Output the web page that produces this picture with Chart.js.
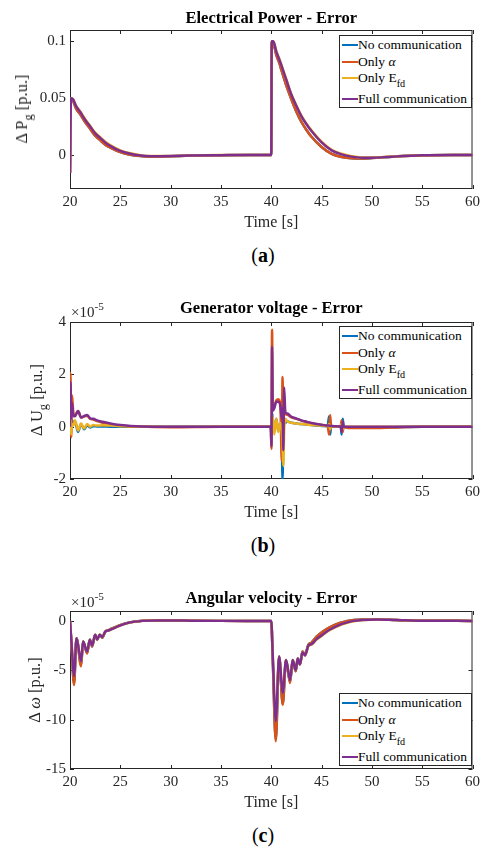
<!DOCTYPE html>
<html>
<head>
<meta charset="utf-8">
<script src="https://cdn.jsdelivr.net/npm/chart.js@4.4.1/dist/chart.umd.min.js"></script>
<style>
    body { margin: 0; background: #fff; width: 484px; height: 852px; position: relative; overflow: hidden; font-family: 'Liberation Serif', serif; color: #262626; }
    canvas { position: absolute; left: 0; }
    .ylab { position: absolute; transform: translate(-50%, -50%) rotate(-90deg); white-space: nowrap; font-size: 16.5px; }
    .sb { font-size: 0.75em; position: relative; top: 5px; }
    .expo { position: absolute; font-size: 15px; white-space: nowrap; }
    .expo .sp { font-size: 0.75em; position: relative; top: -7px; }
    .legend { position: absolute; width: 131px; border: 1px solid #262626; background: #fff; font-size: 13.5px; color: #000; }
    .legend .row { position: relative; height: 17px; }
    .legend .ln { position: absolute; left: 2px; top: 8px; width: 16px; height: 2px; }
    .legend .tx { position: absolute; left: 18px; top: 0; line-height: 17px; white-space: nowrap; }
    .cap { position: absolute; transform: translate(-50%, -50%); font-size: 20px; color: #000; }
</style>
</head>
<body>
<canvas id="chartA" width="484" height="232" style="top:0px"></canvas>
<canvas id="chartB" width="484" height="230" style="top:292px"></canvas>
<canvas id="chartC" width="484" height="231" style="top:581px"></canvas>

<div class="ylab" style="left:22px; top:109px">Δ P<span class="sb">g</span> [p.u.]</div>
<div class="ylab" style="left:37px; top:400px">Δ U<span class="sb">g</span> [p.u.]</div>
<div class="ylab" style="left:35px; top:690px">Δ <i>ω</i> [p.u.]</div>

<div class="expo" style="left:71px; top:304px">×10<span class="sp">-5</span></div>
<div class="expo" style="left:71px; top:594px">×10<span class="sp">-5</span></div>

<div class="legend" id="legendA" style="left:339px; top:35px"></div>
<div class="legend" id="legendB" style="left:339px; top:326px"></div>
<div class="legend" id="legendC" style="left:339px; top:693px"></div>

<div class="cap" style="left:263px; top:255px">(<b>a</b>)</div>
<div class="cap" style="left:263px; top:545px">(<b>b</b>)</div>
<div class="cap" style="left:263px; top:835px">(<b>c</b>)</div>

<script>
// Series names / colours (MATLAB default order)
const seriesLabels = ['No communication', 'Only α', 'Only E_fd', 'Full communication'];
const legendHtml = ['No communication', 'Only <i>α</i>', 'Only E<span class="sb">fd</span>', 'Full communication'];
const colors = ['#0072BD', '#D95319', '#EDB120', '#7E2F8E'];
const xTicks = [20, 25, 30, 35, 40, 45, 50, 55, 60];

// (a) Electrical power error [p.u.]
const timeA = [20, 20.1, 20.3, 20.6, 21, 21.5, 22, 22.5, 23, 23.5,
    24, 25, 26, 27, 28, 30, 32, 35, 38, 40,
    40.05, 40.2, 40.5, 40.8, 41, 41.5, 42, 42.5, 43, 43.5,
    44, 45, 46, 47, 48, 49, 50, 52, 55, 58, 60];
const noCommA = [-0.016, 0.050, 0.048, 0.041, 0.036, 0.029, 0.023, 0.017, 0.013, 0.009,
    0.0065, 0.0025, 0.0002, -0.001, -0.0015, -0.0012, -0.0006, -0.0002, 0, 0,
    0.100, 0.099, 0.088, 0.081, 0.075, 0.061, 0.049, 0.038, 0.029, 0.022,
    0.016, 0.007, 0.001, -0.0018, -0.003, -0.0032, -0.0028, -0.0015, -0.0002, 0, 0];
const onlyAlphaA = [-0.016, 0.050, 0.048, 0.041, 0.036, 0.029, 0.023, 0.017, 0.013, 0.009,
    0.0065, 0.0025, 0.0002, -0.001, -0.0015, -0.0012, -0.0006, -0.0002, 0, 0,
    0.100, 0.099, 0.088, 0.081, 0.075, 0.061, 0.049, 0.038, 0.029, 0.022,
    0.016, 0.007, 0.001, -0.0018, -0.003, -0.0032, -0.0028, -0.0015, -0.0002, 0, 0];
const onlyEfdA = [-0.016, 0.050, 0.049, 0.0435, 0.0385, 0.0316, 0.0256, 0.0196, 0.0156, 0.0116,
    0.0086, 0.004, 0.0014, -0.0002, -0.001, -0.0009, -0.0004, -0.0001, 0, 0,
    0.100, 0.100, 0.0915, 0.0846, 0.0796, 0.0666, 0.0536, 0.0436, 0.0346, 0.0276,
    0.0216, 0.0116, 0.0045, 0.001, -0.0011, -0.0022, -0.0023, -0.0014, -0.0003, 0, 0];
const fullCommA = [-0.016, 0.050, 0.049, 0.043, 0.038, 0.031, 0.025, 0.019, 0.015, 0.011,
    0.008, 0.0035, 0.001, -0.0005, -0.0012, -0.001, -0.0005, -0.0002, 0, 0,
    0.100, 0.100, 0.091, 0.084, 0.079, 0.066, 0.053, 0.043, 0.034, 0.027,
    0.021, 0.011, 0.004, 0.0005, -0.0015, -0.0025, -0.0025, -0.0015, -0.0003, 0, 0];
const yTicksA = [0, 0.05, 0.1];

// (b) Generator voltage error, in 1e-5 p.u.
const timeB = [20, 20.05, 20.12, 20.2, 20.35, 20.5, 20.8, 21.1, 21.4, 21.7,
    22.0, 22.3, 22.7, 23.2, 24, 25, 26, 27, 30, 35,
    39.95, 40.02, 40.08, 40.15, 40.3, 40.5, 40.7, 40.9, 41.05, 41.12,
    41.2, 41.28, 41.4, 41.6, 42, 42.5, 43, 43.5, 44, 44.5,
    45, 45.6, 45.75, 45.85, 45.95, 46.3, 46.9, 47.0, 47.1, 47.2,
    47.6, 48, 50, 52, 55, 60];
const noCommB = [0, 0.3, -0.2, 0.25, 0.15, 0.2, -0.2, 0.1, -0.1, 0.05,
    -0.03, 0.02, 0.01, 0.01, 0, 0, 0, 0, 0, 0,
    0, -0.3, 0.5, 0.3, -0.2, 0.3, -0.15, 0.1, -0.5, -2.0,
    -0.4, 0.2, 0.15, 0.2, 0.15, 0.12, 0.1, 0.08, 0.06, 0.04,
    0.03, 0.02, 0.4, -0.3, 0.02, 0, 0, -0.3, 0.3, 0,
    -0.02, -0.02, -0.03, -0.02, 0, 0];
const onlyAlphaB = [0, 2.05, -0.4, 1.2, 0.45, 0.45, 0.6, 0.35, 0.4, 0.42,
    0.3, 0.27, 0.21, 0.16, 0.09, 0.04, 0.01, 0, -0.02, 0,
    0, -0.85, 3.7, 0.8, 0.8, 1.0, 1.05, 0.85, -1.3, 1.9,
    0.6, 0.9, 0.5, 0.45, 0.36, 0.3, 0.23, 0.18, 0.13, 0.09,
    0.06, 0.04, -0.3, 0.45, 0.02, 0.01, 0, 0.25, -0.2, 0,
    -0.05, -0.05, -0.05, -0.03, 0, 0];
const onlyEfdB = [0, 0.5, -0.3, 0.1, 0.05, 0.25, -0.15, 0.12, -0.07, 0.1,
    0.0, 0.06, 0.04, 0.05, 0.04, 0.02, 0.01, 0, 0, 0,
    0, -0.2, 0.3, 0.4, -0.3, 0.3, -0.2, 0.15, -0.2, -0.6,
    -1.5, -0.2, 0.3, 0.2, 0.15, 0.12, 0.1, 0.08, 0.06, 0.05,
    0.04, 0.03, 0.1, -0.1, 0.02, 0.01, 0, 0.1, -0.1, 0,
    0, 0, 0, 0, 0, 0];
const fullCommB = [0, 1.7, 0.3, 0.9, 0.4, 0.4, 0.6, 0.35, 0.4, 0.45,
    0.32, 0.3, 0.24, 0.19, 0.12, 0.06, 0.03, 0.01, 0, 0,
    0, -0.75, 3.05, 0.6, 0.7, 0.95, 0.95, 0.8, 0.3, 0.7,
    -0.9, 1.5, 0.55, 0.5, 0.38, 0.31, 0.24, 0.19, 0.14, 0.1,
    0.07, 0.04, 0.04, 0.03, 0.03, 0.02, 0.01, -0.2, 0.2, 0,
    0, 0, 0, 0, 0, 0];
const yTicksB = [-2, 0, 2, 4];

// (c) Angular velocity error, in 1e-5 p.u.
const timeC = [20, 20.15, 20.4, 20.65, 21.1, 21.3, 21.7, 21.97, 22.2, 22.5,
    22.7, 22.96, 23.2, 23.5, 23.9, 24.9, 25.9, 27.2, 28.5, 30,
    32, 35, 40, 40.15, 40.45, 40.78, 41.14, 41.47, 41.87, 42.13,
    42.43, 42.63, 42.86, 43.1, 43.35, 43.7, 44.0, 44.5, 45.1, 45.8,
    46.8, 47.4, 48.2, 49.1, 50.5, 52.4, 55, 60];
const noCommC = [0, -2.4, -6.3, -1.75, -4.5, -2.1, -3.25, -1.9, -2.6, -1.4,
    -1.9, -1.4, -1.7, -1.1, -0.9, -0.45, -0.15, 0.02, 0.05, 0.05,
    0.02, 0, 0, -3.9, -12.0, -3.6, -8.4, -3.95, -6.2, -3.95,
    -5.1, -3.8, -4.4, -3.1, -3.4, -2.4, -2.2, -1.6, -1.1, -0.65,
    -0.2, -0.05, 0.1, 0.15, 0.15, 0.08, 0.01, 0];
const onlyAlphaC = [0, -2.5, -6.5, -1.75, -4.6, -2.1, -3.3, -1.9, -2.6, -1.4,
    -1.9, -1.4, -1.7, -1.1, -0.9, -0.45, -0.15, 0.02, 0.05, 0.05,
    0.02, 0, 0, -4.0, -12.2, -3.6, -8.5, -3.95, -6.3, -3.95,
    -5.1, -3.8, -4.4, -3.1, -3.4, -2.4, -2.2, -1.6, -1.1, -0.65,
    -0.2, -0.05, 0.1, 0.15, 0.15, 0.08, 0.01, 0];
const onlyEfdC = [0, -2.2, -5.6, -1.75, -4.1, -2.1, -3.1, -1.9, -2.5, -1.4,
    -1.85, -1.4, -1.65, -1.1, -0.95, -0.5, -0.2, 0, 0.04, 0.05,
    0.02, 0, 0, -3.5, -10.2, -3.6, -7.3, -3.95, -6.0, -3.95,
    -5.0, -3.8, -4.4, -3.2, -3.5, -2.55, -2.4, -1.9, -1.45, -0.95,
    -0.45, -0.25, -0.05, 0.08, 0.15, 0.1, 0.02, 0];
const fullCommC = [0, -2.2, -5.6, -1.75, -4.1, -2.1, -3.1, -1.9, -2.5, -1.4,
    -1.85, -1.4, -1.65, -1.1, -0.95, -0.5, -0.18, 0, 0.05, 0.05,
    0.02, 0, 0, -3.5, -10.2, -3.6, -7.3, -3.95, -6.0, -3.95,
    -5.0, -3.8, -4.4, -3.2, -3.5, -2.5, -2.35, -1.85, -1.4, -0.9,
    -0.4, -0.2, 0, 0.1, 0.15, 0.1, 0.02, 0];
const yTicksC = [-15, -10, -5, 0];

Chart.defaults.font.family = "'Liberation Serif', 'Times New Roman', serif";
Chart.defaults.color = '#262626';

// MATLAB style box with inward ticks on all four sides
const axesBox = {
    id: 'axesBox',
    beforeDatasetsDraw(chart) {
        const { ctx, chartArea: a, scales } = chart;
        const tl = 4;
        ctx.save();
        ctx.strokeStyle = '#262626';
        ctx.lineWidth = 1;
        ctx.strokeRect(a.left + 0.5, a.top + 0.5, a.width - 1, a.height - 1);
        ctx.beginPath();
        scales.x.ticks.forEach(t => {
            const px = Math.round(scales.x.getPixelForValue(t.value)) + 0.5;
            ctx.moveTo(px, a.bottom); ctx.lineTo(px, a.bottom - tl);
            ctx.moveTo(px, a.top); ctx.lineTo(px, a.top + tl);
        });
        scales.y.ticks.forEach(t => {
            const py = Math.round(scales.y.getPixelForValue(t.value)) + 0.5;
            ctx.moveTo(a.left, py); ctx.lineTo(a.left + tl, py);
            ctx.moveTo(a.right, py); ctx.lineTo(a.right - tl, py);
        });
        ctx.stroke();
        ctx.restore();
    }
};

function makeChart(id, title, titlePad, time, values, yMin, yMax, yTicks) {
    var ctx = document.getElementById(id).getContext('2d');
    var datasets = values.map((v, i) => ({
        label: seriesLabels[i],
        data: time.map((t, k) => ({ x: t, y: v[k] })),
        borderColor: colors[i],
        backgroundColor: colors[i],
        borderWidth: 2.5,
        pointRadius: 0,
        cubicInterpolationMode: 'monotone',
        order: values.length - i // full communication drawn on top
    }));
    return new Chart(ctx, {
        type: 'line',
        data: { datasets: datasets },
        options: {
            responsive: false,
            animation: false,
            layout: { padding: { right: 8 } },
            plugins: {
                legend: { display: false },
                tooltip: { enabled: false },
                title: {
                    display: true,
                    fullSize: false, // centre over the axes, like matlab
                    text: title,
                    color: '#000',
                    font: { size: 16.5, weight: 'bold' },
                    padding: titlePad
                }
            },
            scales: {
                x: {
                    type: 'linear',
                    min: 20,
                    max: 60,
                    grid: { display: false, drawTicks: false },
                    border: { display: false },
                    ticks: { font: { size: 15 }, padding: 4, maxRotation: 0, callback: v => String(v) },
                    afterBuildTicks: s => { s.ticks = xTicks.map(v => ({ value: v })); },
                    afterFit: s => { s.height = 43; },
                    title: { display: true, text: 'Time [s]', font: { size: 16 }, padding: 0 }
                },
                y: {
                    min: yMin,
                    max: yMax,
                    grid: { display: false, drawTicks: false },
                    border: { display: false },
                    ticks: { font: { size: 15 }, padding: 4, callback: v => String(v) },
                    afterBuildTicks: s => { s.ticks = yTicks.map(v => ({ value: v })); },
                    afterFit: s => { s.width = 70; }
                }
            }
        },
        plugins: [axesBox]
    });
}

// Html legend (needs subscript for E_fd)
function buildLegend(id) {
    var heights = [17, 16, 21, 17];
    var el = document.getElementById(id);
    el.innerHTML = legendHtml.map((txt, i) =>
        `<div class="row" style="height:${heights[i]}px"><span class="ln" style="background:${colors[i]}"></span><span class="tx">${txt}</span></div>`
    ).join('');
}

makeChart('chartA', 'Electrical Power - Error', { top: 9, bottom: 1.2 }, timeA,
    [noCommA, onlyAlphaA, onlyEfdA, fullCommA], -0.03, 0.11, yTicksA);
makeChart('chartB', 'Generator voltage - Error', { top: 7, bottom: 3.2 }, timeB,
    [noCommB, onlyAlphaB, onlyEfdB, fullCommB], -2, 4, yTicksB);
makeChart('chartC', 'Angular velocity - Error', { top: 8, bottom: 2.2 }, timeC,
    [noCommC, onlyAlphaC, onlyEfdC, fullCommC], -15, 1, yTicksC);

buildLegend('legendA');
buildLegend('legendB');
buildLegend('legendC');
</script>
</body>
</html>
